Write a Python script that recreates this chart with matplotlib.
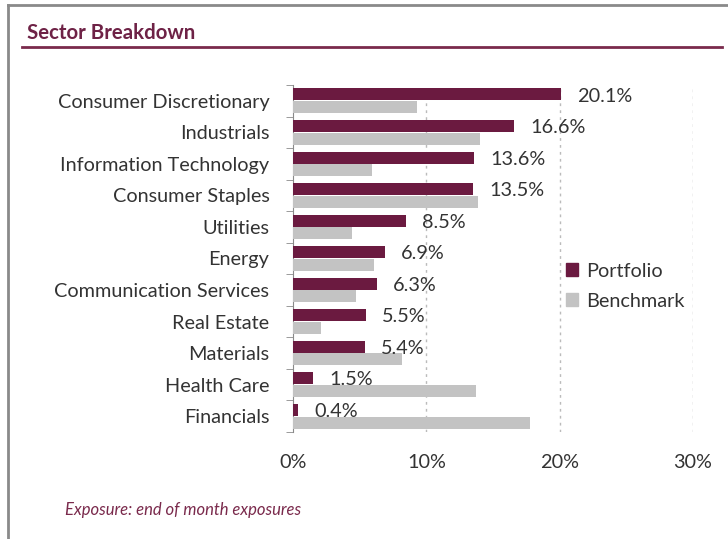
import matplotlib.pyplot as plt
from matplotlib.lines import Line2D
from matplotlib.patches import Patch

categories = ["Consumer Discretionary", "Industrials", "Information Technology",
              "Consumer Staples", "Utilities", "Energy", "Communication Services",
              "Real Estate", "Materials", "Health Care", "Financials"]
portfolio = [20.1, 16.6, 13.6, 13.5, 8.5, 6.9, 6.3, 5.5, 5.4, 1.5, 0.4]
benchmark = [9.3, 14.0, 5.9, 13.9, 4.4, 6.1, 4.7, 2.1, 8.2, 13.7, 17.8]
ticks = [0, 10, 20, 30]

maroon = "#6b1a40"
grey = "#c3c3c3"
txt = "#333333"
fs = 14.3
plt.rcParams['font.family'] = ['Lato', 'DejaVu Sans']

W, H = 728, 539
fig = plt.figure(figsize=(W / 100, H / 100), dpi=100)

# frame + title
fig.add_artist(Line2D([8 / W, 8 / W], [0, 1 - 5 / H], transform=fig.transFigure, color="#8a8a8a", lw=2))
fig.add_artist(Line2D([8 / W, 1], [1 - 5 / H, 1 - 5 / H], transform=fig.transFigure, color="#8a8a8a", lw=2))
fig.text(27 / W, 1 - 33 / H, "Sector Breakdown", color="#6e2246", fontsize=14.7, fontweight="bold", va="center")
fig.add_artist(Line2D([22 / W, 722 / W], [1 - 47 / H, 1 - 47 / H], transform=fig.transFigure, color="#7a2a4c", lw=2))
fig.text(65 / W, 1 - 510 / H, "Exposure: end of month exposures", color="#7a2a4c", fontsize=12,
         style="italic", va="center")

ax = fig.add_axes([293 / W, 1 - 432 / H, 400 / W, 347 / H])
y = list(range(len(categories)))
h = 0.38
ax.barh([i - 0.2 for i in y], portfolio, height=h, color=maroon, label="Portfolio", zorder=3)
ax.barh([i + 0.2 for i in y], benchmark, height=h, color=grey, label="Benchmark", zorder=3)
for i, v in enumerate(portfolio):
    ax.text(v + 1.2, i - 0.15, "{0}%".format(v), va="center", ha="left", fontsize=fs, color=txt, zorder=4)

ax.set_xlim(0, 30)
ax.set_ylim(len(categories) - 0.5, -0.5)
ax.set_xticks(ticks)
ax.set_xticklabels(["{0}%".format(t) for t in ticks], fontsize=fs, color=txt)
ax.set_yticks(y)
ax.set_yticklabels(categories, fontsize=fs, color=txt)
ax.set_yticks([i - 0.5 for i in range(len(categories) + 1)], minor=True)
ax.tick_params(axis="y", which="major", length=0, pad=17)
ax.tick_params(axis="y", which="minor", length=5, color="#8a8a8a", direction="out")
ax.tick_params(axis="x", length=0, pad=16)
for t in ticks[1:]:
    ax.axvline(t, color="#bbbbbb", ls=(0, (2, 3)), lw=1, zorder=1)
for s in ["top", "right", "bottom"]:
    ax.spines[s].set_visible(False)
ax.spines["left"].set_color("#8a8a8a")

handles = [Patch(color=maroon, label="Portfolio"), Patch(color=grey, label="Benchmark")]
ax.legend(handles=handles, loc="center left", bbox_to_anchor=(0.638, 0.42), frameon=False,
          fontsize=fs, handlelength=0.6, handleheight=0.6, handletextpad=0.4, labelspacing=0.65)
for t in ax.get_legend().get_texts():
    t.set_color(txt)

fig.savefig("out.png", dpi=100)
